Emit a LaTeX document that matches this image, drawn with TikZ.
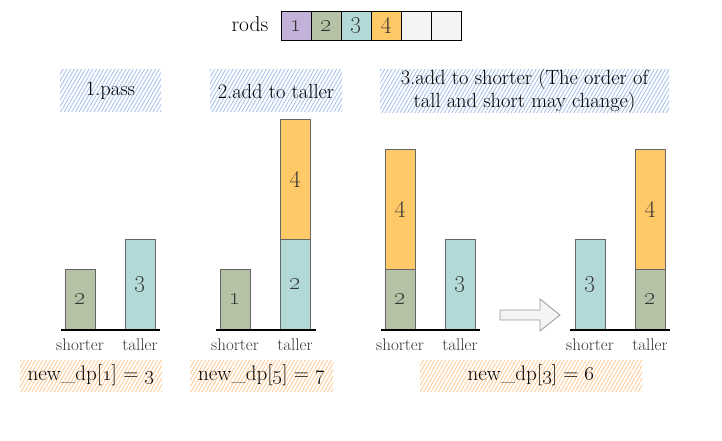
\documentclass[tikz,border=0pt]{standalone}
\usetikzlibrary{patterns.meta}
\definecolor{cpur}{HTML}{C3B1D9}
\definecolor{cgrn}{HTML}{B5C2A6}
\definecolor{ctea}{HTML}{B2D9D8}
\definecolor{cora}{HTML}{FFC968}
\definecolor{cgry}{HTML}{F4F4F4}
\definecolor{hblue}{HTML}{A9C4EB}
\definecolor{horng}{HTML}{FFCC99}
\definecolor{bord}{HTML}{666666}
\definecolor{txt}{HTML}{333333}
\newcommand{\os}[1]{\oldstylenums{#1}}
\tikzset{
  rodbox/.style={draw=black, line width=0.8pt, minimum width=30pt, minimum height=29pt, inner sep=0pt, anchor=north west, font=\fontsize{24}{26}\selectfont, text=txt},
  bar/.style={draw=bord, line width=0.8pt, minimum width=30pt, inner sep=0pt, anchor=south west, font=\fontsize{24}{26}\selectfont, text=txt},
  base/.style={line width=1.2pt, black},
  axlab/.style={font=\fontsize{17}{19}\selectfont, text=txt},
  bluehatch/.style={pattern={Lines[angle=60,distance=3.2pt,line width=0.9pt]}, pattern color=hblue, inner sep=0pt, font=\fontsize{20.5}{23}\selectfont, align=center},
  orhatch/.style={pattern={Lines[angle=60,distance=3.2pt,line width=0.9pt]}, pattern color=horng, inner sep=0pt, minimum height=31pt, font=\fontsize{21}{24}\selectfont},
}
\begin{document}
\begin{tikzpicture}[x=1pt,y=-1pt]
\useasboundingbox (0,0) rectangle (722,441);
% rods
\node[font=\fontsize{21.5}{24}\selectfont] (rods) at (250,24) {rods};
\node[rodbox, fill=cpur] (r1) at (281,11) {\os{1}};
\node[rodbox, fill=cgrn] (r2) at (311,11) {\os{2}};
\node[rodbox, fill=ctea] (r3) at (341,11) {\os{3}};
\node[rodbox, fill=cora] (r4) at (371,11) {\os{4}};
\node[rodbox, fill=cgry] (r5) at (401,11) {};
\node[rodbox, fill=cgry] (r6) at (431,11) {};
% top labels
\node[bluehatch, minimum width=101pt, minimum height=42pt] (t1) at (110.5,91) {1.pass};
\node[bluehatch, minimum width=132pt, minimum height=42pt] (t2) at (276,91) {2.add to taller};
\node[bluehatch, minimum width=289pt, minimum height=42pt] (t3) at (524.5,91) {3.add to shorter (The order of\\tall and short may change)};
% panel 1
\coordinate (b1l) at (61,330); \coordinate (b1r) at (160,330);
\node[bar, fill=cgrn, minimum height=60pt] (p1a) at (65,330) {\os{2}};
\node[bar, fill=ctea, minimum height=90pt] (p1b) at (125,330) {\os{3}};
\draw[base] (b1l) -- (b1r);
\node[axlab] (s1) at (80,345) {shorter};
\node[axlab] (l1) at (140,345) {taller};
% panel 2
\coordinate (b2l) at (216,330); \coordinate (b2r) at (316,330);
\node[bar, fill=cgrn, minimum height=60pt] (p2a) at (220,330) {\os{1}};
\node[bar, fill=ctea, minimum height=90pt] (p2b) at (280,330) {\os{2}};
\node[bar, fill=cora, minimum height=120pt] (p2c) at (280,240) {\os{4}};
\draw[base] (b2l) -- (b2r);
\node[axlab] (s2) at (235,345) {shorter};
\node[axlab] (l2) at (295,345) {taller};
% panel 3
\coordinate (b3l) at (381,330); \coordinate (b3r) at (480,330);
\node[bar, fill=cgrn, minimum height=60pt] (p3a) at (385,330) {\os{2}};
\node[bar, fill=cora, minimum height=120pt] (p3c) at (385,270) {\os{4}};
\node[bar, fill=ctea, minimum height=90pt] (p3b) at (445,330) {\os{3}};
\draw[base] (b3l) -- (b3r);
\node[axlab] (s3) at (400,345) {shorter};
\node[axlab] (l3) at (460,345) {taller};
% arrow
\draw[draw=black!40, fill=cgry, line width=0.8pt] (500,310) -- (540,310) -- (540,299) -- (560,315) -- (540,331) -- (540,320) -- (500,320) -- cycle;
% panel 4
\coordinate (b4l) at (570,330); \coordinate (b4r) at (670,330);
\node[bar, fill=ctea, minimum height=90pt] (p4a) at (575,330) {\os{3}};
\node[bar, fill=cgrn, minimum height=60pt] (p4b) at (635,330) {\os{2}};
\node[bar, fill=cora, minimum height=120pt] (p4c) at (635,270) {\os{4}};
\draw[base] (b4l) -- (b4r);
\node[axlab] (s4) at (590,345) {shorter};
\node[axlab] (l4) at (650,345) {taller};
% bottom labels
\node[orhatch, minimum width=142pt] (n1) at (91,375.5) {new\_dp[\os{1}] = \os{3}};
\node[orhatch, minimum width=143pt] (n2) at (261.5,375.5) {new\_dp[\os{5}] = \os{7}};
\node[orhatch, minimum width=222pt] (n3) at (531,375.5) {new\_dp[\os{3}] = \os{6}};
\end{tikzpicture}
\end{document}
